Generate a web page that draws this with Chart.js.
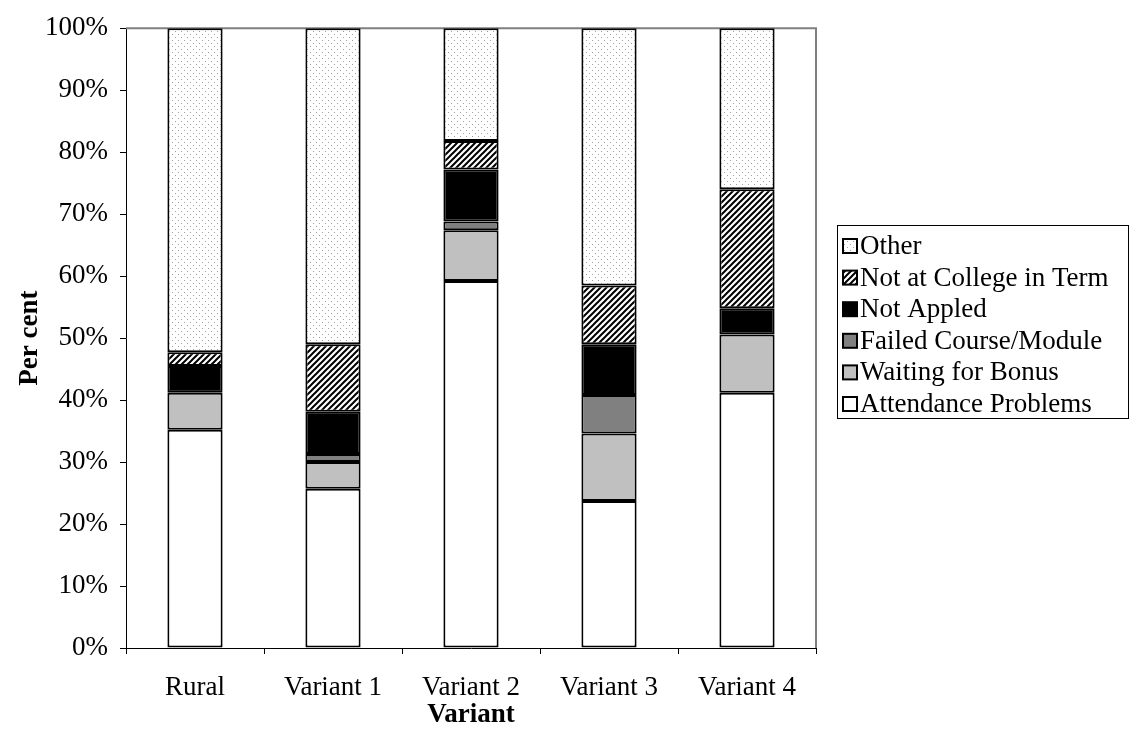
<!DOCTYPE html>
<html>
<head>
<meta charset="utf-8">
<title>Reasons by variant</title>
<script src="https://cdn.jsdelivr.net/npm/chart.js@4/dist/chart.umd.min.js"></script>
<style>
    body { margin: 0; background: #fff; }
    #wrap { width: 1139px; height: 742px; }
</style>
</head>
<body>
<div id="wrap"><canvas id="reasonChart" width="1139" height="742"></canvas></div>
<script>
const categories = ['Rural', 'Variant 1', 'Variant 2', 'Variant 3', 'Variant 4'];

// per cent of each bar, bottom to top
const attendanceProblems = [35.2, 25.7, 59.2, 23.7, 41.2];
const waitingForBonus    = [6.0, 4.3, 8.2, 10.9, 9.4];
const failedCourse       = [0, 1.3, 1.4, 6.2, 0];
const notApplied         = [4.3, 6.8, 8.4, 8.2, 4.2];
const notAtCollege       = [2.2, 10.9, 4.6, 9.5, 19.2];
const otherReasons       = [52.3, 51.0, 18.2, 41.5, 26.0];

const yTicks = [0, 10, 20, 30, 40, 50, 60, 70, 80, 90, 100];

const FONT = "'Liberation Serif', 'Times New Roman', serif";
const FSIZE = 27;

function makePattern(size, draw) {
    const c = document.createElement('canvas');
    c.width = size;
    c.height = size;
    const g = c.getContext('2d');
    g.fillStyle = '#fff';
    g.fillRect(0, 0, size, size);
    draw(g, size);
    return c.getContext('2d').createPattern(c, 'repeat');
}

// light dotted fill for "Other"
const dotted = makePattern(6, (g) => {
    g.fillStyle = '#a0a0a0';
    g.fillRect(1, 1, 1, 1);
    g.fillRect(4, 4, 1, 1);
});

// black diagonal hatch for "Not at College in Term"
const hatched = makePattern(6, (g, s) => {
    g.strokeStyle = '#000';
    g.lineWidth = 2;
    g.beginPath();
    g.moveTo(-1, s + 1); g.lineTo(s + 1, -1);
    g.moveTo(-1, 1); g.lineTo(1, -1);
    g.moveTo(s - 1, s + 1); g.lineTo(s + 1, s - 1);
    g.stroke();
});

function series(label, data, fill) {
    return {
        label: label,
        data: data,
        backgroundColor: fill,
        borderColor: '#000',
        borderWidth: 2,
        borderSkipped: false,
        categoryPercentage: 1.0,
        barPercentage: 0.4
    };
}

// gray frame on top/right of plot, plus the boxed legend on the right
const frameAndLegend = {
    id: 'frameAndLegend',
    beforeDatasetsDraw(chart) {
        const { ctx, chartArea: a } = chart;
        ctx.save();
        ctx.strokeStyle = '#808080';
        ctx.lineWidth = 2;
        ctx.beginPath();
        ctx.moveTo(a.left, a.top);
        ctx.lineTo(a.right, a.top);
        ctx.lineTo(a.right, a.bottom);
        ctx.stroke();
        ctx.restore();
    },
    afterDraw(chart) {
        const ctx = chart.ctx;
        const sets = chart.data.datasets.slice().reverse();
        const boxX = 837, boxY = 225, boxW = 291, boxH = 193;
        const rowH = 31.6;
        ctx.save();
        ctx.strokeStyle = '#000';
        ctx.lineWidth = 1;
        ctx.strokeRect(boxX + 0.5, boxY + 0.5, boxW, boxH);
        ctx.font = FSIZE + 'px ' + FONT;
        ctx.textBaseline = 'middle';
        sets.forEach((ds, i) => {
            const cy = boxY + 21 + i * rowH;
            ctx.fillStyle = ds.backgroundColor;
            ctx.fillRect(843, cy - 7, 14, 14);
            ctx.strokeStyle = '#000';
            ctx.lineWidth = 2;
            ctx.strokeRect(843, cy - 7, 14, 14);
            ctx.fillStyle = '#000';
            ctx.fillText(ds.label, 860, cy + 1);
        });
        ctx.restore();
    }
};

new Chart(document.getElementById('reasonChart'), {
    type: 'bar',
    data: {
        labels: categories,
        datasets: [
            series('Attendance Problems', attendanceProblems, '#ffffff'),
            series('Waiting for Bonus', waitingForBonus, '#c0c0c0'),
            series('Failed Course/Module', failedCourse, '#808080'),
            series('Not Appled', notApplied, '#000000'),
            series('Not at College in Term', notAtCollege, hatched),
            series('Other', otherReasons, dotted)
        ]
    },
    options: {
        responsive: false,
        animation: false,
        layout: { padding: { left: 0, right: 323, top: 28, bottom: 0 } },
        plugins: {
            legend: { display: false },
            tooltip: { enabled: false }
        },
        scales: {
            x: {
                stacked: true,
                afterFit(scale) { scale.height = 94; },
                grid: {
                    offset: true,
                    drawOnChartArea: false,
                    drawTicks: true,
                    tickLength: 6,
                    color: '#000'
                },
                border: { color: '#000', width: 1 },
                ticks: {
                    color: '#000',
                    padding: 18,
                    font: { family: FONT, size: FSIZE }
                },
                title: {
                    display: true,
                    text: 'Variant',
                    color: '#000',
                    padding: { top: 0, bottom: 11 },
                    font: { family: FONT, size: FSIZE, weight: 'bold' }
                }
            },
            y: {
                stacked: true,
                min: 0,
                max: 100,
                afterFit(scale) { scale.width = 126; },
                afterBuildTicks(scale) {
                    scale.ticks = yTicks.map(v => ({ value: v }));
                },
                grid: {
                    drawOnChartArea: false,
                    drawTicks: true,
                    tickLength: 6,
                    color: '#000'
                },
                border: { color: '#000', width: 1 },
                ticks: {
                    color: '#000',
                    padding: 12,
                    font: { family: FONT, size: FSIZE },
                    callback: v => v + '%'
                },
                title: {
                    display: true,
                    text: 'Per cent',
                    color: '#000',
                    padding: { top: 14, bottom: 0 },
                    font: { family: FONT, size: FSIZE, weight: 'bold' }
                }
            }
        }
    },
    plugins: [frameAndLegend]
});
</script>
</body>
</html>
